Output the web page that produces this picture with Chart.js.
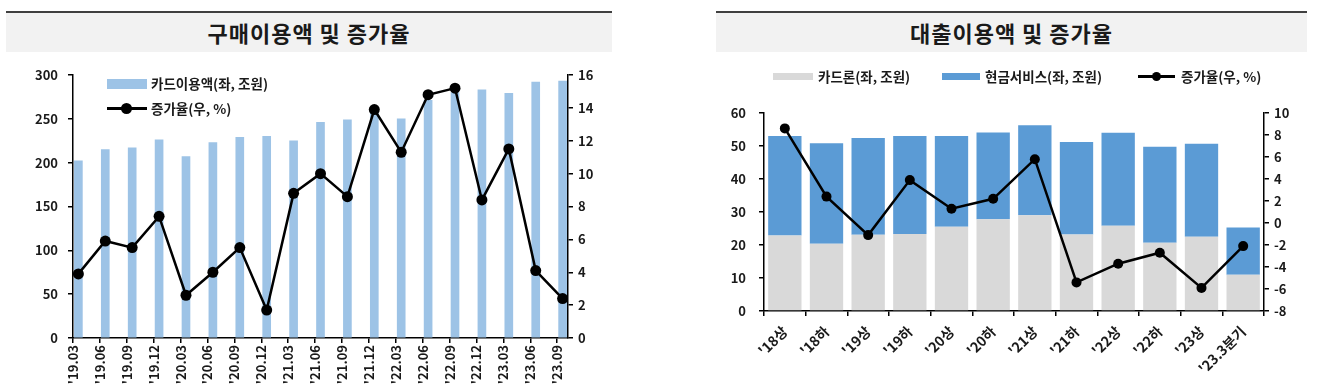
<!DOCTYPE html>
<html>
<head>
<meta charset="utf-8">
<script src="https://cdn.jsdelivr.net/npm/chart.js@4"></script>
<style>
  body { margin: 0; background: #fff; width: 1330px; height: 391px; position: relative; overflow: hidden;
         font-family: "Noto Sans CJK KR", "Noto Sans", sans-serif; color: #1a1a1a; }
  .hdr { position: absolute; top: 11px; height: 39px; background: #f2f2f2; border-top: 2px solid #404040;
         font-weight: bold; font-size: 22px; letter-spacing: 1px; text-align: center; line-height: 38px; }
  canvas { position: absolute; }
  .lg { position: absolute; font-size: 13.5px; font-weight: bold; white-space: nowrap; line-height: 16px; }
  .sw { position: absolute; }
  .ln { position: absolute; height: 2.5px; background: #000; }
  .dot { position: absolute; border-radius: 50%; background: #000; }
</style>
</head>
<body>
<div class="hdr" style="left:6px;width:606px">구매이용액 및 증가율</div>
<div class="hdr" style="left:716px;width:591px">대출이용액 및 증가율</div>

<canvas id="usageChart" width="650" height="336" style="left:0;top:55px"></canvas>
<canvas id="loanChart" width="630" height="336" style="left:700px;top:55px"></canvas>

<!-- left legend (sits inside the plot) -->
<div class="sw" style="left:107px;top:79px;width:40px;height:10px;background:#9dc3e6"></div>
<div class="lg" style="left:151px;top:75px">카드이용액(좌, 조원)</div>
<div class="ln" style="left:107px;top:107px;width:40px"></div>
<div class="dot" style="left:121px;top:103px;width:11px;height:11px"></div>
<div class="lg" style="left:151px;top:100px">증가율(우, %)</div>

<!-- right legend -->
<div class="sw" style="left:773px;top:73px;width:40px;height:7px;background:#d9d9d9"></div>
<div class="lg" style="left:818px;top:68px">카드론(좌, 조원)</div>
<div class="sw" style="left:942px;top:73px;width:38px;height:7px;background:#5b9bd5"></div>
<div class="lg" style="left:985px;top:68px">현금서비스(좌, 조원)</div>
<div class="ln" style="left:1138px;top:75px;width:37px"></div>
<div class="dot" style="left:1152px;top:72px;width:9px;height:9px"></div>
<div class="lg" style="left:1181px;top:68px">증가율(우, %)</div>

<script>
// 구매이용액 (left chart)
const periods = ["'19.03", "'19.06", "'19.09", "'19.12", "'20.03", "'20.06", "'20.09", "'20.12",
  "'21.03", "'21.06", "'21.09", "'21.12", "'22.03", "'22.06", "'22.09", "'22.12", "'23.03", "'23.06", "'23.09"];
const cardUsage = [202, 215, 217, 226, 207, 223, 229, 230, 225, 246, 249, 258, 250, 271, 280, 283, 279, 292, 293];
const usageGrowth = [3.9, 5.9, 5.5, 7.4, 2.6, 4.0, 5.5, 1.7, 8.8, 10.0, 8.6, 13.9, 11.3, 14.8, 15.2, 8.4, 11.5, 4.1, 2.4];

// 대출이용액 (right chart)
const halves = ["'18상", "'18하", "'19상", "'19하", "'20상", "'20하", "'21상", "'21하", "'22상", "'22하", "'23상", "'23.3분기"];
const cardLoan = [22.9, 20.4, 23.1, 23.3, 25.5, 27.8, 29.0, 23.2, 25.8, 20.7, 22.5, 11.0];
const cashService = [30.1, 30.4, 29.3, 29.7, 27.5, 26.3, 27.3, 28.0, 28.2, 29.1, 28.2, 14.3];
const loanGrowth = [8.6, 2.4, -1.1, 3.9, 1.3, 2.2, 5.8, -5.4, -3.7, -2.7, -5.9, -2.1];

const FONT = '"Noto Sans CJK KR", "Noto Sans", sans-serif';
const INK = '#1a1a1a';

Chart.defaults.animation = false;
Chart.defaults.font.family = FONT;

// shared axis look: black border, short outward tick marks, no gridlines
const axisStyle = (pad, size = 13) => ({
  grid: { display: true, drawOnChartArea: false, drawTicks: true, tickLength: 5, color: '#000', lineWidth: 1.5 },
  border: { display: true, color: '#000', width: 1.5 },
  ticks: { font: { family: FONT, size, weight: 'bold' }, color: INK, padding: pad },
});

const xShift = 0.2; // bars sit a little right of each tick mark in the source
const usageX = axisStyle(2, 13);
usageX.type = 'linear';
usageX.min = -xShift;
usageX.max = periods.length - 1 + xShift;
usageX.offset = false;
usageX.grid.offset = false;
usageX.ticks.autoSkip = false;
usageX.ticks.minRotation = 90;
usageX.ticks.maxRotation = 90;
usageX.ticks.callback = (v, i) => periods[i];
usageX.afterBuildTicks = (s) => { s.ticks = periods.map((_, i) => ({ value: i - xShift })); };
usageX.afterFit = (s) => { s.height = 53; };

const usageY = axisStyle(10);
usageY.min = 0; usageY.max = 300; usageY.ticks.stepSize = 50;
usageY.afterFit = (s) => { s.width = 73; };

const usageY1 = axisStyle(5);
usageY1.position = 'right';
usageY1.min = 0; usageY1.max = 16; usageY1.ticks.stepSize = 2;
usageY1.afterFit = (s) => { s.width = 82; };

new Chart('usageChart', {
  type: 'bar',
  data: {
    datasets: [
      {
        type: 'line', label: '증가율(우, %)', yAxisID: 'y1', order: 0,
        data: usageGrowth.map((v, i) => ({ x: i, y: v })),
        borderColor: '#000', borderWidth: 2.5, pointRadius: 5.5, pointBackgroundColor: '#000',
        pointBorderWidth: 0, tension: 0,
      },
      {
        label: '카드이용액(좌, 조원)', yAxisID: 'y', order: 1,
        data: cardUsage.map((v, i) => ({ x: i, y: v })),
        backgroundColor: '#9dc3e6', barThickness: 8,
      },
    ],
  },
  options: {
    responsive: false,
    devicePixelRatio: 1,
    layout: { padding: { top: 20, left: 0, right: 0, bottom: 0 } },
    plugins: { legend: { display: false }, tooltip: { enabled: false } },
    scales: { x: usageX, y: usageY, y1: usageY1 },
  },
});

const loanX = axisStyle(7, 14);
loanX.stacked = true;
loanX.grid.offset = true;
loanX.ticks.autoSkip = false;
loanX.ticks.minRotation = 45;
loanX.ticks.maxRotation = 45;
loanX.afterFit = (s) => { s.height = 80; };

const loanY = axisStyle(13);
loanY.stacked = true;
loanY.min = 0; loanY.max = 60; loanY.ticks.stepSize = 10;
loanY.afterFit = (s) => { s.width = 64; };

const loanY1 = axisStyle(5);
loanY1.position = 'right';
loanY1.min = -8; loanY1.max = 10; loanY1.ticks.stepSize = 2;
loanY1.afterFit = (s) => { s.width = 66; };

new Chart('loanChart', {
  type: 'bar',
  data: {
    labels: halves,
    datasets: [
      {
        type: 'line', label: '증가율(우, %)', yAxisID: 'y1', order: 0,
        data: loanGrowth,
        borderColor: '#000', borderWidth: 2.5, pointRadius: 5, pointBackgroundColor: '#000',
        pointBorderWidth: 0, tension: 0,
      },
      {
        label: '카드론(좌, 조원)', yAxisID: 'y', order: 1, data: cardLoan,
        backgroundColor: '#d9d9d9', barPercentage: 0.8, categoryPercentage: 1,
      },
      {
        label: '현금서비스(좌, 조원)', yAxisID: 'y', order: 1, data: cashService,
        backgroundColor: '#5b9bd5', barPercentage: 0.8, categoryPercentage: 1,
      },
    ],
  },
  options: {
    responsive: false,
    devicePixelRatio: 1,
    layout: { padding: { top: 58, left: 0, right: 0, bottom: 0 } },
    plugins: { legend: { display: false }, tooltip: { enabled: false } },
    scales: { x: loanX, y: loanY, y1: loanY1 },
  },
});
</script>
</body>
</html>
